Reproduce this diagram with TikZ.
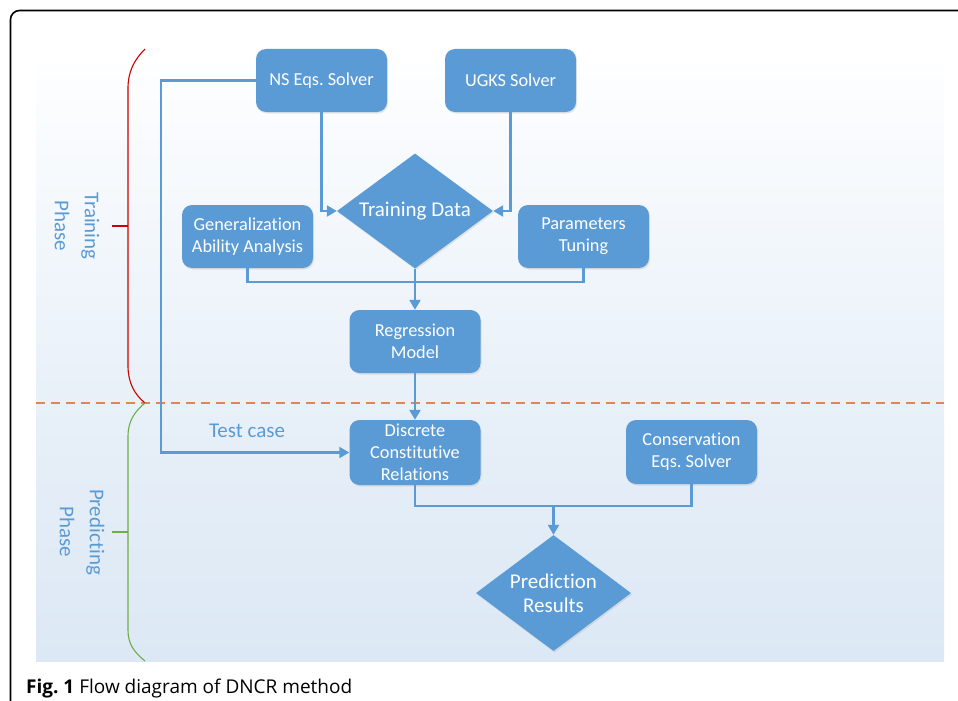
\documentclass[tikz,border=0pt]{standalone}
\usepackage{fontspec}
\setmainfont{Carlito}[Ligatures=NoCommon]
\newfontfamily\capfont{Open Sans}
\usetikzlibrary{shapes.geometric,arrows.meta,shadows}
\definecolor{boxblue}{RGB}{91,155,213}
\definecolor{bgtop}{RGB}{253,254,255}
\definecolor{bgmid}{RGB}{232,240,248}
\definecolor{bgbot}{RGB}{220,232,245}
\definecolor{dashcol}{RGB}{220,135,90}
\definecolor{bracered}{RGB}{204,0,0}
\definecolor{bracegreen}{RGB}{112,173,71}
\frenchspacing

\begin{document}
\begin{tikzpicture}[x=1pt,y=-1pt,
    box/.style={fill=boxblue,rounded corners=10pt,minimum width=131pt,minimum height=63pt,
      text=white,align=center,inner sep=2pt,font=\fontsize{18.3}{22}\selectfont,
      drop shadow={opacity=.18,shadow xshift=1pt,shadow yshift=-1.5pt}},
    decision/.style={diamond,fill=boxblue,inner sep=0pt,
      drop shadow={opacity=.18,shadow xshift=1pt,shadow yshift=-1.5pt}},
    dtext/.style={text=white,align=center,font=\fontsize{21}{24}\selectfont},
    flow/.style={draw=boxblue,line width=2.3pt},
    arrow/.style={flow,-{Triangle[length=10pt,width=11pt]}},
    phase/.style={text=boxblue,align=center,rotate=-90,font=\fontsize{21}{30}\selectfont},
    brace/.style={line width=1.1pt}
  ]
      \useasboundingbox (0,0) rectangle (958,701);
      \fill[white] (0,0) rectangle (958,701);

      % frame and background
      \draw[line width=1.6pt,rounded corners=9pt] (10.5,701) -- (10.5,10.5) -- (958,10.5);
      \shade[top color=bgtop,bottom color=bgmid] (36,65) rectangle (944,403);
      \shade[top color=bgmid,bottom color=bgbot] (36,403) rectangle (944,661);
      \draw[dashcol,line width=1.3pt,dash pattern=on 9pt off 6pt] (36,403) -- (944,403);

      % phase braces
      \draw[brace,bracered] (145,49) .. controls (134,60) and (128,72) .. (128,88)
        -- (128,366) .. controls (128,382) and (134,394) .. (145,403);
      \draw[brace,bracered] (112,226) -- (128,226);
      \draw[brace,bracegreen] (145,403) .. controls (134,412) and (128,422) .. (128,436)
        -- (128,630) .. controls (128,644) and (134,652) .. (145,661);
      \draw[brace,bracegreen] (112,532) -- (128,532);
      \node[phase] (train) at (77,226) {Training\\Phase};
      \node[phase] (predict) at (82,532) {Predicting\\Phase};

      % training phase
      \node[box] (ns) at (321.5,80.5) {NS Eqs. Solver};
      \node[box] (ugks) at (510.5,80.5) {UGKS Solver};
      \node[decision,minimum width=156pt,minimum height=115pt,
        label={[dtext]center:Training Data}] (data) at (415,211) {};
      \node[box] (gen) at (247.5,236.5) {Generalization\\Ability Analysis};
      \node[box] (param) at (583.5,236.5) {Parameters\\Tuning};
      \node[box] (reg) at (415,341.5) {Regression\\Model};

      % predicting phase
      \node[box,minimum height=65pt] (dcr) at (415,452.5) {Discrete\\Constitutive\\Relations};
      \node[box,minimum height=64pt] (cons) at (691.5,452) {Conservation\\Eqs. Solver};
      \node[decision,minimum width=155pt,minimum height=116pt,
        label={[dtext]center:Prediction\\Results}] (pred) at (553.5,593) {};

      \coordinate (merge) at (415,282);
      \coordinate (bend) at (161,80.5);
      \coordinate (join) at (553.5,506);

      \draw[arrow] (ns.south) |- (data.west);
      \draw[arrow] (ugks.south) |- (data.east);
      \draw[flow] (gen.south) |- (merge) -| (param.south);
      \draw[arrow] (data.south) -- (reg.north);
      \draw[arrow] (reg.south) -- (dcr.north);
      \draw[arrow] (ns.west) -- (bend) |- (dcr.west);
      \node[text=boxblue,font=\fontsize{21}{24}\selectfont] (test) at (247,431) {Test case};
      \draw[flow] (dcr.south) |- (join) -| (cons.south);
      \draw[arrow] (join) -- (pred.north);

      % caption
      \node[anchor=base west,inner sep=0pt,font=\capfont\fontsize{19}{20}\selectfont] (caption) at (26,693)
        {\textbf{Fig. 1} Flow diagram of DNCR method};
    \end{tikzpicture}
\end{document}
